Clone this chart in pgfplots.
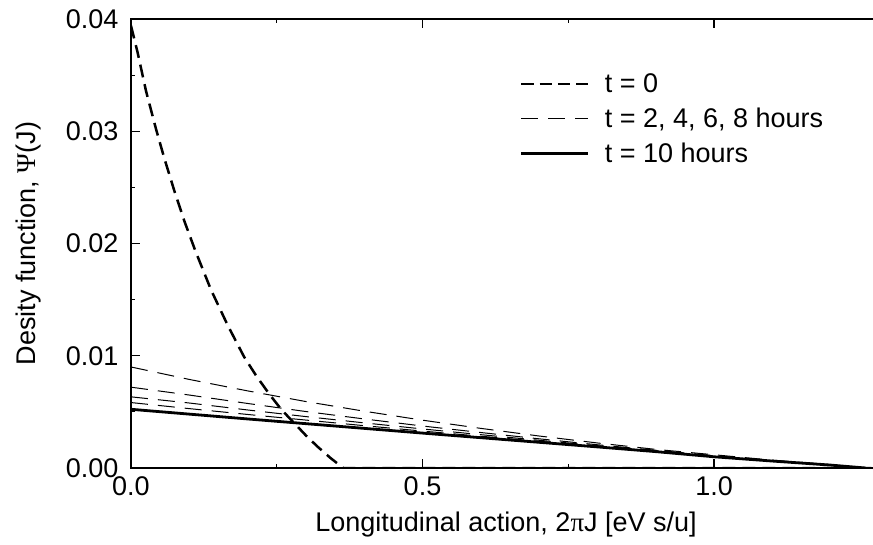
\documentclass[border=0pt]{standalone}
\usepackage{pgfplots}
\pgfplotsset{compat=1.18}
\usepackage{fontspec}
\setmainfont{Liberation Sans}
\newfontfamily\serifgreek{Liberation Serif}
\newcommand{\bigfont}{\fontsize{27}{32}\selectfont}
\pgfplotsset{
  t0legend/.style={legend image code/.code={\draw[##1, dash pattern=on 12.5pt off 5.7pt] (0pt,0pt) -- (67pt,0pt);}},
}

\begin{document}
\begin{tikzpicture}
\begin{axis}[
  name=ax,
  scale only axis,
  width=742pt, height=449pt,
  xmin=0, xmax=1.2727, ymin=0, ymax=0.04,
  axis x line=box, axis y line=left,
  axis line style={line width=2.6pt, -, line cap=rect},
  xtick pos=both, ytick pos=left,
  tick align=inside,
  major tick length=9pt, minor tick length=4.5pt,
  minor x tick num=1, minor y tick num=1,
  tick style={black, line width=1.1pt},
  xtick={0,0.5,1.0}, xticklabels={0.0,0.5,1.0},
  ytick={0,0.01,0.02,0.03,0.04}, yticklabels={0.00,0.01,0.02,0.03,0.04},
  scaled x ticks=false, scaled y ticks=false,
  /pgf/number format/assume math mode=true,
  every tick label/.append style={font=\bigfont},
  xticklabel style={yshift=-5pt},
  yticklabel style={xshift=-9pt},
  xlabel={Longitudinal action, 2{\serifgreek π}J [eV s/u]},
  ylabel={Desity function, {\serifgreek Ψ}(J)},
  xlabel style={at={(axis description cs:0.5054,-0.0909)}, anchor=north, font=\bigfont},
  ylabel style={at={(axis description cs:-0.116,0.5)}, anchor=south, font=\bigfont},
  legend style={draw=none, fill=none, at={(axis description cs:0.5243,0.8845)}, anchor=north west,
    inner sep=0pt, outer sep=0pt, row sep=9pt, column sep=15pt, font=\bigfont,
    nodes={inner sep=0pt, text height=22pt, text depth=4pt}},
  legend cell align=left,
  legend image code/.code={\draw[#1] (0pt,0pt) -- (67pt,0pt);},
  no markers,
]
% t = 0
\addplot[black, line width=2.5pt, dash pattern=on 13pt off 7pt, t0legend]
coordinates {
(0,0.0394) (0.0114,0.0370) (0.0257,0.0336) (0.0429,0.0302) (0.0571,0.0276)
(0.0743,0.0247) (0.0915,0.0220) (0.110,0.0194) (0.137,0.0159) (0.166,0.0127)
(0.194,0.0099) (0.215,0.0082) (0.237,0.0066) (0.258,0.0052) (0.280,0.0040)
(0.300,0.0029) (0.320,0.0019) (0.342,0.0009) (0.364,0.0) (1.27,0)
};
\addlegendentry{t = 0}
% t = 2
\addplot[black, line width=1pt, dash pattern=on 17pt off 10pt]
coordinates {
(0,0.00900) (0.1,0.00789) (0.2,0.00687) (0.3,0.00592) (0.4,0.00506) (0.5,0.00426)
(0.6,0.00353) (0.7,0.00285) (0.8,0.00223) (0.9,0.00166) (1.0,0.00118) (1.1,0.00070)
(1.2,0.00030) (1.25,0)
};
\addlegendentry{t = 2, 4, 6, 8 hours}
% t = 4
\addplot[black, line width=1pt, dash pattern=on 17pt off 10pt, forget plot]
coordinates {
(0,0.00720) (0.1,0.00650) (0.2,0.00575) (0.3,0.00503) (0.4,0.00437) (0.5,0.00374)
(0.6,0.00316) (0.7,0.00260) (0.8,0.00207) (0.9,0.00158) (1.0,0.00110) (1.1,0.00066)
(1.2,0.00028) (1.25,0)
};
% t = 6
\addplot[black, line width=1pt, dash pattern=on 17pt off 10pt, forget plot]
coordinates {
(0,0.00634) (0.1,0.00579) (0.2,0.00517) (0.3,0.00458) (0.4,0.00402) (0.5,0.00348)
(0.6,0.00297) (0.7,0.00247) (0.8,0.00199) (0.9,0.00154) (1.0,0.00106) (1.1,0.00064)
(1.2,0.00027) (1.25,0)
};
% t = 8
\addplot[black, line width=1pt, dash pattern=on 17pt off 10pt, forget plot]
coordinates {
(0,0.00583) (0.1,0.00529) (0.2,0.00477) (0.3,0.00427) (0.4,0.00377) (0.5,0.00329)
(0.6,0.00283) (0.7,0.00238) (0.8,0.00194) (0.9,0.00151) (1.0,0.00103) (1.1,0.00063)
(1.2,0.00027) (1.25,0)
};
% t = 10
\addplot[black, line width=2.8pt]
coordinates {
(0,0.00523) (0.1,0.00480) (0.2,0.00437) (0.3,0.00395) (0.4,0.00353) (0.5,0.00311)
(0.6,0.00270) (0.7,0.00229) (0.8,0.00188) (0.9,0.00146) (1.0,0.00100) (1.1,0.00062)
(1.2,0.00026) (1.26,0)
};
\addlegendentry{t = 10 hours}
\end{axis}
\pgfresetboundingbox
\path[use as bounding box] ([xshift=-131pt,yshift=-76pt]ax.south west) rectangle ([xshift=742pt,yshift=468pt]ax.south west);
\end{tikzpicture}
\end{document}
